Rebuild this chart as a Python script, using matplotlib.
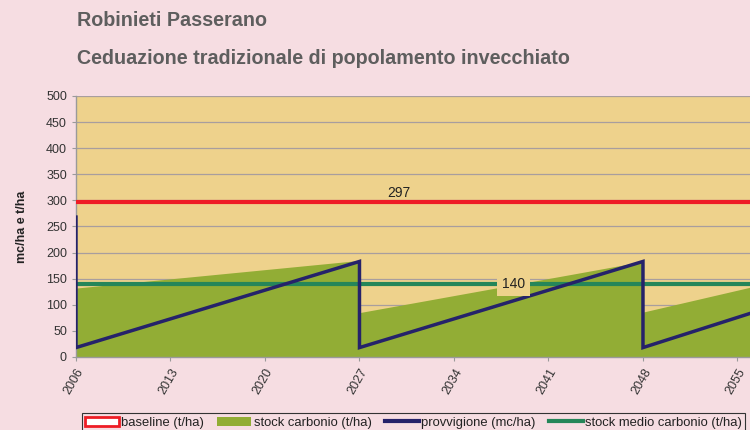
import matplotlib
matplotlib.use("Agg")
import matplotlib.pyplot as plt
from matplotlib.patches import Patch
from matplotlib.lines import Line2D

# Dati
anni_provv = [2006, 2006, 2027, 2027, 2048, 2048, 2056]
provvigione = [268, 18, 183, 18, 183, 18, 84]

anni_stock = [2006, 2027, 2027, 2048, 2048, 2056]
stock_carbonio = [132, 185, 85, 183, 86, 134]

baseline = 297
stock_medio = 140

anni_tick = [2006, 2013, 2020, 2027, 2034, 2041, 2048, 2055]
y_tick = list(range(0, 501, 50))

sfondo = "#F6DDE2"
fondo_plot = "#EED28C"
verde_area = "#92AD35"
blu = "#25226A"
rosso = "#EE1C25"
verde_linea = "#258659"

plt.rcParams['font.family'] = ['Liberation Sans', 'DejaVu Sans']

fig = plt.figure(figsize=(7.5, 4.3), dpi=100, facecolor=sfondo)
ax = fig.add_axes([0.1013, 0.1698, 0.9, 0.607])
ax.set_facecolor(fondo_plot)

ax.fill_between(anni_stock, stock_carbonio, 0, color=verde_area, lw=0, zorder=2)
ax.axhline(baseline, color=rosso, lw=3, zorder=3)
ax.axhline(stock_medio, color=verde_linea, lw=3, zorder=3)
ax.plot(anni_provv, provvigione, color=blu, lw=2.5, zorder=4, solid_joinstyle='miter')

ax.text(2029.9, baseline + 4, str(baseline), fontsize=10, ha='center', va='bottom', color='#222222', zorder=5)
ax.text(2038.4, stock_medio, str(stock_medio), fontsize=10, ha='center', va='center', color='#222222', zorder=5,
        bbox=dict(facecolor=fondo_plot, edgecolor='none', pad=3.5))

ax.set_xlim(2006, 2056)
ax.set_ylim(0, 500)
ax.set_yticks(y_tick)
ax.set_xticks(anni_tick)
ax.set_xticklabels([str(a) for a in anni_tick], rotation=60, ha='right', va='top', rotation_mode='anchor')
ax.tick_params(axis='both', labelsize=9, colors='#333333', length=3, width=0.8, color='#9a9a9a')
ax.tick_params(axis='x', pad=4)
ax.grid(axis='y', color='#A89E9E', lw=0.9, zorder=1)
ax.set_axisbelow(True)
for s in ['top', 'right']:
    ax.spines[s].set_visible(False)
for s in ['left', 'bottom']:
    ax.spines[s].set_color('#9a9a9a')
    ax.spines[s].set_linewidth(1)

ax.set_ylabel("mc/ha e t/ha", fontsize=9, fontweight='bold', color='#222222', labelpad=13)

fig.text(0.1027, 0.953, "Robinieti Passerano", fontsize=14.2, fontweight='bold', color='#5E5E5E', va='center')
fig.text(0.1027, 0.865, "Ceduazione tradizionale di popolamento invecchiato", fontsize=14.2, fontweight='bold',
         color='#5E5E5E', va='center')

handles = [
    Patch(facecolor='white', edgecolor=rosso, lw=2),
    Patch(facecolor=verde_area, edgecolor='none'),
    Line2D([0], [0], color=blu, lw=3),
    Line2D([0], [0], color=verde_linea, lw=3),
]
labels = ["baseline (t/ha)", "stock carbonio (t/ha)", "provvigione (mc/ha)", "stock medio carbonio (t/ha)"]
leg = fig.legend(handles, labels, loc='lower left', bbox_to_anchor=(0.1, -0.02), ncol=4, fontsize=9.4,
                 frameon=True, fancybox=False, edgecolor='#333333', facecolor=sfondo, framealpha=1,
                 handlelength=2.6, handletextpad=0.2, columnspacing=1.0, borderpad=0.25, labelcolor='#222222')
leg.get_frame().set_linewidth(0.8)

fig.savefig("out.png", dpi=100, facecolor=sfondo)
